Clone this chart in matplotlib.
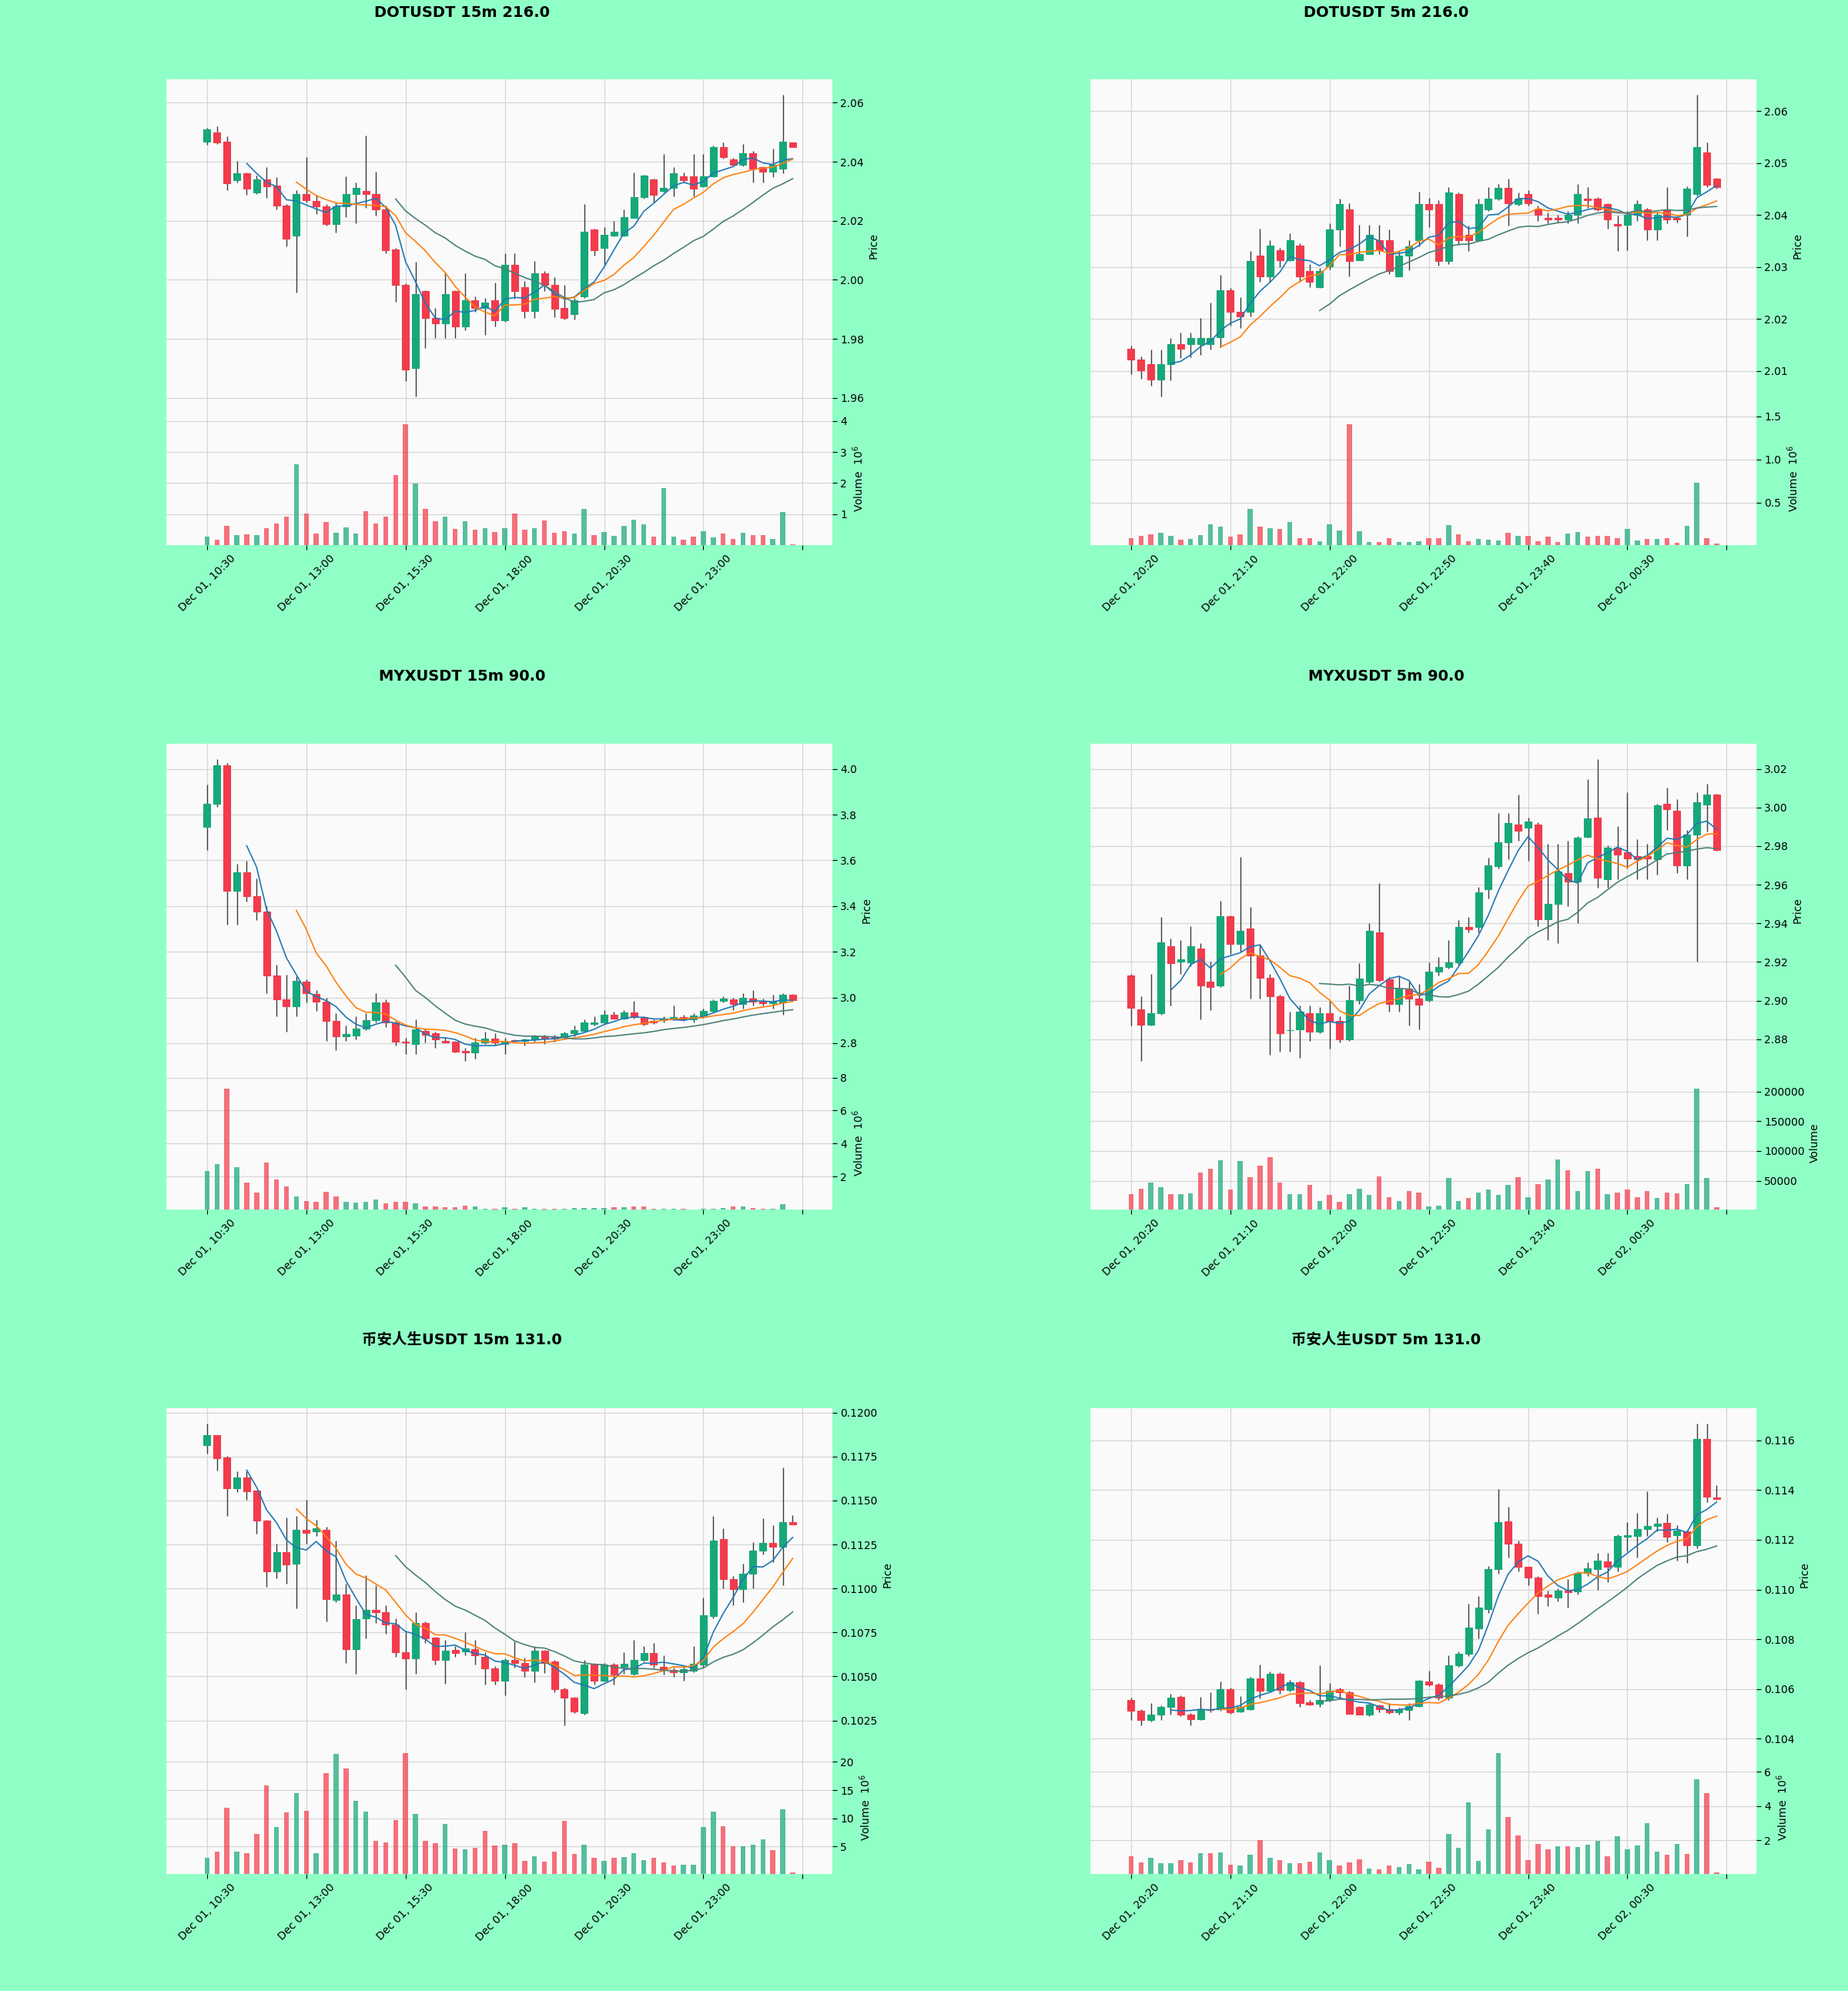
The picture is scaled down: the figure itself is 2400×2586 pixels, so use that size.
import matplotlib
matplotlib.use("Agg")
import numpy as np
import pandas as pd
import matplotlib.pyplot as plt

BG = "#90ffc6"
PANEL_BG = "#fafafa"
UP = "#16a87a"
DOWN = "#f23b4c"
MA_COLORS = ["#1f77b4", "#ff7f0e", "#4a7f78"]
MA_WINDOWS = [5, 10, 20]

labels_15m = ["Dec 01, 10:30", "Dec 01, 13:00", "Dec 01, 15:30", "Dec 01, 18:00",
              "Dec 01, 20:30", "Dec 01, 23:00", ""]
labels_5m = ["Dec 01, 20:20", "Dec 01, 21:10", "Dec 01, 22:00", "Dec 01, 22:50",
             "Dec 01, 23:40", "Dec 02, 00:30", ""]

# ---- DOTUSDT 15m ----
dot15_open = [2.0467, 2.0500, 2.0467, 2.0337, 2.0361, 2.0297, 2.0339, 2.0320, 2.0252, 2.0150,
              2.0290, 2.0268, 2.0250, 2.0190, 2.0250, 2.0290, 2.0300, 2.0290, 2.0239, 2.0102,
              1.9983, 1.9702, 1.9961, 1.9871, 1.9853, 1.9961, 1.9843, 1.9930, 1.9904, 1.9932,
              1.9863, 2.0052, 1.9974, 1.9894, 2.0022, 1.9984, 1.9904, 1.9883, 1.9943, 2.0170,
              2.0109, 2.0150, 2.0150, 2.0210, 2.0280, 2.0339, 2.0300, 2.0311, 2.0350, 2.0350,
              2.0317, 2.0350, 2.0450, 2.0409, 2.0389, 2.0428, 2.0381, 2.0367, 2.0378, 2.0465]
dot15_high = [2.0515, 2.0520, 2.0487, 2.0404, 2.0365, 2.0352, 2.0383, 2.0348, 2.0257, 2.0304,
              2.0417, 2.0287, 2.0257, 2.0261, 2.0350, 2.0330, 2.0489, 2.0367, 2.0252, 2.0109,
              1.9987, 2.0061, 1.9965, 1.9904, 2.0026, 1.9965, 2.0022, 1.9943, 1.9939, 1.9991,
              2.0091, 2.0091, 1.9996, 2.0063, 2.0030, 2.0009, 1.9983, 1.9939, 2.0257, 2.0174,
              2.0178, 2.0200, 2.0239, 2.0365, 2.0357, 2.0343, 2.0426, 2.0383, 2.0365, 2.0426,
              2.0426, 2.0454, 2.0465, 2.0413, 2.0461, 2.0437, 2.0384, 2.0445, 2.0628, 2.0466]
dot15_low = [2.0457, 2.0461, 2.0304, 2.0330, 2.0287, 2.0290, 2.0278, 2.0239, 2.0113, 1.9957,
             2.0261, 2.0222, 2.0183, 2.0161, 2.0213, 2.0191, 2.0243, 2.0217, 2.0091, 1.9926,
             1.9657, 1.9604, 1.9770, 1.9802, 1.9802, 1.9802, 1.9830, 1.9891, 1.9813, 1.9843,
             1.9857, 1.9935, 1.9870, 1.9870, 1.9961, 1.9874, 1.9865, 1.9865, 1.9939, 2.0083,
             2.0052, 2.0148, 2.0148, 2.0209, 2.0274, 2.0261, 2.0296, 2.0283, 2.0330, 2.0283,
             2.0313, 2.0348, 2.0410, 2.0387, 2.0384, 2.0330, 2.0330, 2.0348, 2.0361, 2.0449]
dot15_close = [2.0509, 2.0465, 2.0328, 2.0361, 2.0309, 2.0339, 2.0317, 2.0252, 2.0139, 2.0290,
               2.0270, 2.0250, 2.0190, 2.0250, 2.0290, 2.0311, 2.0290, 2.0239, 2.0100, 1.9983,
               1.9696, 1.9952, 1.9871, 1.9852, 1.9952, 1.9843, 1.9932, 1.9904, 1.9922, 1.9863,
               2.0052, 1.9961, 1.9894, 2.0022, 1.9984, 1.9903, 1.9870, 1.9930, 2.0163, 2.0100,
               2.0152, 2.0163, 2.0213, 2.0280, 2.0352, 2.0289, 2.0311, 2.0361, 2.0337, 2.0309,
               2.0350, 2.0450, 2.0417, 2.0391, 2.0428, 2.0378, 2.0367, 2.0390, 2.0467, 2.0450]
dot15_volume = [0.27, 0.19, 0.62, 0.34, 0.35, 0.34, 0.55, 0.71, 0.92, 2.60,
                1.03, 0.38, 0.74, 0.41, 0.58, 0.37, 1.10, 0.71, 0.92, 2.27,
                3.90, 1.98, 1.18, 0.78, 0.93, 0.52, 0.78, 0.49, 0.54, 0.42,
                0.54, 1.01, 0.49, 0.54, 0.79, 0.40, 0.44, 0.37, 1.18, 0.33,
                0.42, 0.30, 0.62, 0.82, 0.68, 0.27, 1.84, 0.27, 0.19, 0.27,
                0.46, 0.25, 0.38, 0.21, 0.40, 0.34, 0.34, 0.21, 1.08, 0.02]  # x 1e6

# ---- DOTUSDT 5m ----
dot5_open = [2.0143, 2.0122, 2.0113, 2.0083, 2.0113, 2.0152, 2.0152, 2.0152, 2.0152, 2.0164,
             2.0255, 2.0214, 2.0214, 2.0321, 2.0282, 2.0332, 2.0313, 2.0341, 2.0292, 2.0261,
             2.0301, 2.0372, 2.0411, 2.0313, 2.0324, 2.0352, 2.0352, 2.0282, 2.0321, 2.0352,
             2.0421, 2.0421, 2.0311, 2.0440, 2.0362, 2.0352, 2.0411, 2.0431, 2.0452, 2.0421,
             2.0440, 2.0411, 2.0394, 2.0394, 2.0391, 2.0401, 2.0431, 2.0431, 2.0421, 2.0382,
             2.0381, 2.0401, 2.0411, 2.0372, 2.0411, 2.0394, 2.0401, 2.0440, 2.0521, 2.0470]
dot5_high = [2.0148, 2.0128, 2.0141, 2.0141, 2.0163, 2.0173, 2.0173, 2.0202, 2.0232, 2.0284,
             2.0259, 2.0241, 2.0330, 2.0374, 2.0352, 2.0337, 2.0364, 2.0345, 2.0305, 2.0298,
             2.0384, 2.0431, 2.0423, 2.0381, 2.0381, 2.0381, 2.0372, 2.0330, 2.0352, 2.0445,
             2.0433, 2.0428, 2.0453, 2.0443, 2.0379, 2.0431, 2.0453, 2.0460, 2.0470, 2.0443,
             2.0448, 2.0418, 2.0404, 2.0401, 2.0408, 2.0460, 2.0453, 2.0435, 2.0423, 2.0399,
             2.0408, 2.0428, 2.0413, 2.0406, 2.0453, 2.0396, 2.0455, 2.0632, 2.0539, 2.0472]
dot5_low = [2.0094, 2.0084, 2.0071, 2.0050, 2.0082, 2.0124, 2.0126, 2.0131, 2.0141, 2.0146,
            2.0187, 2.0182, 2.0205, 2.0271, 2.0271, 2.0300, 2.0311, 2.0271, 2.0261, 2.0259,
            2.0295, 2.0340, 2.0282, 2.0318, 2.0327, 2.0325, 2.0286, 2.0281, 2.0293, 2.0340,
            2.0377, 2.0303, 2.0305, 2.0342, 2.0330, 2.0351, 2.0408, 2.0428, 2.0379, 2.0418,
            2.0418, 2.0389, 2.0384, 2.0386, 2.0384, 2.0384, 2.0413, 2.0408, 2.0374, 2.0330,
            2.0332, 2.0389, 2.0352, 2.0352, 2.0384, 2.0385, 2.0359, 2.0438, 2.0453, 2.0450]
dot5_close = [2.0122, 2.0101, 2.0083, 2.0113, 2.0152, 2.0142, 2.0163, 2.0163, 2.0163, 2.0255,
              2.0214, 2.0204, 2.0311, 2.0282, 2.0341, 2.0313, 2.0352, 2.0282, 2.0272, 2.0292,
              2.0372, 2.0421, 2.0311, 2.0324, 2.0362, 2.0332, 2.0292, 2.0321, 2.0340, 2.0421,
              2.0411, 2.0311, 2.0443, 2.0352, 2.0352, 2.0421, 2.0431, 2.0452, 2.0422, 2.0431,
              2.0422, 2.0401, 2.0392, 2.0391, 2.0401, 2.0440, 2.0428, 2.0411, 2.0391, 2.0379,
              2.0401, 2.0421, 2.0372, 2.0401, 2.0391, 2.0392, 2.0450, 2.0531, 2.0458, 2.0453]
dot5_volume = [0.088, 0.118, 0.136, 0.148, 0.112, 0.073, 0.076, 0.121, 0.246, 0.225,
               0.103, 0.136, 0.425, 0.225, 0.207, 0.196, 0.270, 0.091, 0.088, 0.052,
               0.246, 0.172, 1.410, 0.163, 0.043, 0.040, 0.088, 0.046, 0.040, 0.055,
               0.091, 0.091, 0.243, 0.136, 0.055, 0.079, 0.073, 0.064, 0.148, 0.118,
               0.112, 0.055, 0.103, 0.046, 0.139, 0.157, 0.103, 0.118, 0.112, 0.091,
               0.193, 0.058, 0.076, 0.076, 0.088, 0.031, 0.231, 0.730, 0.091, 0.022]  # x 1e6

# ---- MYXUSDT 15m ----
myx15_open = [3.746, 3.846, 4.017, 3.466, 3.546, 3.443, 3.376, 3.096, 2.991, 2.961,
              3.069, 3.015, 2.981, 2.898, 2.831, 2.834, 2.864, 2.900, 2.978, 2.891,
              2.807, 2.798, 2.855, 2.842, 2.811, 2.807, 2.767, 2.758, 2.802, 2.820,
              2.798, 2.814, 2.810, 2.815, 2.831, 2.828, 2.828, 2.844, 2.855, 2.885,
              2.891, 2.924, 2.908, 2.934, 2.914, 2.898, 2.900, 2.908, 2.914, 2.904,
              2.920, 2.940, 2.984, 2.991, 2.971, 2.994, 2.984, 2.975, 2.978, 3.011]
myx15_high = [3.933, 4.044, 4.027, 3.586, 3.599, 3.519, 3.399, 3.145, 3.098, 3.092,
              3.078, 3.031, 2.998, 2.931, 2.878, 2.918, 2.931, 3.018, 2.991, 2.898,
              2.824, 2.904, 2.864, 2.851, 2.824, 2.811, 2.778, 2.824, 2.851, 2.844,
              2.824, 2.818, 2.820, 2.838, 2.838, 2.838, 2.851, 2.878, 2.904, 2.918,
              2.944, 2.938, 2.944, 2.984, 2.918, 2.904, 2.918, 2.964, 2.924, 2.931,
              2.951, 2.991, 3.005, 2.998, 3.018, 3.031, 2.994, 3.011, 3.018, 3.016]
myx15_low = [3.646, 3.833, 3.319, 3.319, 3.419, 3.339, 3.018, 2.918, 2.851, 2.918,
             2.978, 2.941, 2.811, 2.771, 2.811, 2.818, 2.858, 2.891, 2.871, 2.791,
             2.751, 2.751, 2.804, 2.778, 2.802, 2.758, 2.721, 2.731, 2.798, 2.794,
             2.751, 2.806, 2.790, 2.806, 2.798, 2.806, 2.818, 2.831, 2.851, 2.878,
             2.884, 2.904, 2.904, 2.908, 2.878, 2.884, 2.891, 2.904, 2.898, 2.891,
             2.911, 2.935, 2.978, 2.944, 2.951, 2.964, 2.964, 2.951, 2.924, 2.984]
myx15_close = [3.846, 4.017, 3.466, 3.546, 3.443, 3.376, 3.096, 2.991, 2.961, 3.071,
               3.018, 2.981, 2.898, 2.831, 2.841, 2.864, 2.900, 2.978, 2.891, 2.807,
               2.802, 2.860, 2.838, 2.815, 2.804, 2.764, 2.758, 2.802, 2.820, 2.802,
               2.811, 2.810, 2.815, 2.831, 2.820, 2.820, 2.844, 2.858, 2.891, 2.891,
               2.924, 2.908, 2.934, 2.914, 2.884, 2.891, 2.908, 2.914, 2.904, 2.920,
               2.940, 2.984, 2.994, 2.971, 2.998, 2.981, 2.975, 2.981, 3.011, 2.988]
myx15_volume = [2.36, 2.77, 7.34, 2.55, 1.66, 1.04, 2.87, 1.84, 1.42, 0.82,
                0.54, 0.45, 1.06, 0.78, 0.48, 0.41, 0.45, 0.63, 0.39, 0.45,
                0.45, 0.39, 0.17, 0.17, 0.13, 0.13, 0.22, 0.17, 0.07, 0.07,
                0.13, 0.07, 0.13, 0.06, 0.06, 0.06, 0.07, 0.09, 0.11, 0.11,
                0.11, 0.13, 0.13, 0.20, 0.17, 0.06, 0.06, 0.07, 0.06, 0.02,
                0.06, 0.07, 0.11, 0.17, 0.17, 0.11, 0.07, 0.07, 0.32, 0.02]  # x 1e6

# ---- MYXUSDT 5m ----
myx5_open = [2.9132, 2.8955, 2.8876, 2.8934, 2.9282, 2.9203, 2.9198, 2.9271, 2.9097, 2.9077,
             2.9436, 2.9295, 2.9372, 2.9235, 2.9119, 2.9021, 2.8845, 2.8850, 2.8934, 2.8839,
             2.8934, 2.8895, 2.8800, 2.9002, 2.9097, 2.9353, 2.9111, 2.8982, 2.9061, 2.9009,
             2.9001, 2.9151, 2.9172, 2.9198, 2.9382, 2.9382, 2.9575, 2.9698, 2.9820, 2.9910,
             2.9895, 2.9910, 2.9420, 2.9499, 2.9662, 2.9615, 2.9847, 2.9947, 2.9630, 2.9793,
             2.9768, 2.9749, 2.9749, 2.9733, 3.0021, 2.9983, 2.9702, 2.9860, 3.0015, 3.0069]
myx5_high = [2.9140, 2.9021, 2.9140, 2.9433, 2.9322, 2.9314, 2.9385, 2.9298, 2.9203, 2.9515,
             2.9441, 2.9744, 2.9483, 2.9290, 2.9140, 2.9029, 2.8942, 2.8974, 2.8974, 2.8966,
             2.8997, 2.8918, 2.9077, 2.9195, 2.9401, 2.9607, 2.9124, 2.9132, 2.9100, 2.9085,
             2.9198, 2.9224, 2.9314, 2.9417, 2.9433, 2.9588, 2.9741, 2.9971, 2.9971, 3.0069,
             2.9947, 2.9923, 2.9812, 2.9812, 2.9828, 2.9852, 3.0148, 3.0252, 2.9804, 2.9904,
             3.0081, 2.9836, 2.9812, 3.0018, 3.0105, 3.0042, 2.9884, 3.0081, 3.0121, 3.0072]
myx5_low = [2.8871, 2.8686, 2.8871, 2.8926, 2.8974, 2.9140, 2.9179, 2.8903, 2.8950, 2.9072,
            2.9243, 2.9255, 2.9009, 2.9009, 2.8721, 2.8736, 2.8736, 2.8702, 2.8792, 2.8831,
            2.8752, 2.8784, 2.8792, 2.8982, 2.9092, 2.9100, 2.8942, 2.8942, 2.8871, 2.8850,
            2.8995, 2.9132, 2.9164, 2.9187, 2.9353, 2.9353, 2.9528, 2.9686, 2.9733, 2.9828,
            2.9725, 2.9385, 2.9314, 2.9299, 2.9488, 2.9401, 2.9844, 2.9583, 2.9583, 2.9630,
            2.9686, 2.9630, 2.9630, 2.9654, 2.9884, 2.9662, 2.9630, 2.9203, 2.9876, 2.9778]
myx5_close = [2.8961, 2.8876, 2.8934, 2.9303, 2.9195, 2.9214, 2.9282, 2.9077, 2.9072, 2.9436,
              2.9293, 2.9361, 2.9235, 2.9119, 2.9021, 2.8831, 2.8848, 2.8942, 2.8839, 2.8934,
              2.8895, 2.8800, 2.9002, 2.9116, 2.9361, 2.9108, 2.8982, 2.9061, 2.9009, 2.8977,
              2.9151, 2.9172, 2.9198, 2.9382, 2.9369, 2.9562, 2.9702, 2.9820, 2.9920, 2.9879,
              2.9926, 2.9420, 2.9499, 2.9667, 2.9615, 2.9844, 2.9942, 2.9635, 2.9793, 2.9757,
              2.9736, 2.9733, 2.9736, 3.0010, 2.9990, 2.9702, 2.9860, 3.0026, 3.0069, 2.9781]
myx5_volume = [28000, 37100, 47300, 39700, 28000, 27000, 28500, 63600, 70200, 83900,
               34600, 82900, 56500, 75300, 89000, 47300, 27000, 27000, 43200, 15300,
               25900, 14200, 27000, 36100, 25900, 57500, 21900, 15800, 32000, 29500,
               6600, 7600, 54900, 15300, 20900, 30500, 34600, 25900, 43200, 56000,
               21900, 44800, 52400, 85500, 67700, 32000, 66100, 70200, 27000, 29500,
               34600, 21900, 32000, 20900, 29500, 29000, 44800, 205000, 54900, 5100]

# ---- 币安人生USDT 15m ----
bnl15_open = [0.11814, 0.11873, 0.11743, 0.11569, 0.11630, 0.11557, 0.11384, 0.11097, 0.11207, 0.11141,
              0.11335, 0.11323, 0.11335, 0.10936, 0.10967, 0.10655, 0.10828, 0.10877, 0.10866, 0.10797,
              0.10637, 0.10602, 0.10802, 0.10720, 0.10595, 0.10651, 0.10641, 0.10655, 0.10611, 0.10547,
              0.10477, 0.10594, 0.10576, 0.10533, 0.10646, 0.10585, 0.10429, 0.10380, 0.10293, 0.10568,
              0.10477, 0.10568, 0.10553, 0.10516, 0.10594, 0.10634, 0.10553, 0.10536, 0.10524, 0.10533,
              0.10568, 0.10845, 0.11280, 0.11054, 0.10998, 0.11085, 0.11215, 0.11259, 0.11236, 0.11375]
bnl15_high = [0.11939, 0.11873, 0.11752, 0.11665, 0.11665, 0.11557, 0.11392, 0.11253, 0.11405, 0.11410,
              0.11502, 0.11392, 0.11349, 0.11271, 0.11028, 0.10906, 0.11075, 0.11019, 0.10906, 0.10828,
              0.10750, 0.10863, 0.10814, 0.10727, 0.10707, 0.10672, 0.10750, 0.10707, 0.10637, 0.10559,
              0.10602, 0.10698, 0.10606, 0.10672, 0.10651, 0.10594, 0.10437, 0.10385, 0.10594, 0.10576,
              0.10576, 0.10576, 0.10637, 0.10707, 0.10672, 0.10689, 0.10620, 0.10550, 0.10559, 0.10672,
              0.10950, 0.11410, 0.11340, 0.11071, 0.11141, 0.11262, 0.11401, 0.11358, 0.11688, 0.11418]
bnl15_low = [0.11766, 0.11670, 0.11410, 0.11549, 0.11505, 0.11311, 0.11010, 0.11057, 0.11028, 0.10889,
             0.11253, 0.11297, 0.10811, 0.10924, 0.10576, 0.10516, 0.10715, 0.10802, 0.10741, 0.10611,
             0.10429, 0.10516, 0.10689, 0.10568, 0.10460, 0.10611, 0.10620, 0.10568, 0.10455, 0.10455,
             0.10394, 0.10550, 0.10498, 0.10467, 0.10519, 0.10411, 0.10220, 0.10290, 0.10281, 0.10455,
             0.10472, 0.10455, 0.10516, 0.10507, 0.10585, 0.10550, 0.10510, 0.10498, 0.10477, 0.10524,
             0.10550, 0.10828, 0.11002, 0.10906, 0.10924, 0.11002, 0.11193, 0.11150, 0.11019, 0.11363]
bnl15_close = [0.11873, 0.11740, 0.11569, 0.11630, 0.11554, 0.11384, 0.11097, 0.11207, 0.11137, 0.11335,
               0.11318, 0.11340, 0.10941, 0.10964, 0.10655, 0.10825, 0.10877, 0.10863, 0.10797, 0.10637,
               0.10602, 0.10802, 0.10715, 0.10594, 0.10646, 0.10634, 0.10658, 0.10620, 0.10547, 0.10477,
               0.10594, 0.10576, 0.10533, 0.10646, 0.10576, 0.10429, 0.10380, 0.10299, 0.10568, 0.10477,
               0.10568, 0.10510, 0.10571, 0.10594, 0.10634, 0.10568, 0.10536, 0.10524, 0.10542, 0.10571,
               0.10849, 0.11271, 0.11054, 0.10998, 0.11085, 0.11215, 0.11259, 0.11236, 0.11375, 0.11366]
bnl15_volume = [2.9, 4.0, 11.9, 4.0, 3.8, 7.2, 15.8, 8.4, 11.0, 14.4,
                11.3, 3.8, 18.0, 21.4, 18.8, 13.1, 11.2, 6.0, 5.7, 9.7,
                21.6, 10.8, 6.0, 5.5, 9.0, 4.6, 4.5, 4.7, 7.7, 5.1,
                5.3, 5.6, 2.4, 3.2, 2.3, 4.1, 9.5, 3.7, 5.3, 2.9,
                2.4, 3.0, 3.1, 3.8, 2.6, 2.9, 2.2, 1.6, 1.8, 1.7,
                8.4, 11.2, 8.6, 5.0, 5.0, 5.3, 6.3, 4.3, 11.6, 0.3]  # x 1e6

# ---- 币安人生USDT 5m ----
bnl5_open = [0.10556, 0.10511, 0.10474, 0.10495, 0.10528, 0.10569, 0.10498, 0.10479, 0.10519, 0.10519,
             0.10599, 0.10509, 0.10519, 0.10643, 0.10593, 0.10661, 0.10597, 0.10627, 0.10546, 0.10540,
             0.10556, 0.10599, 0.10585, 0.10528, 0.10498, 0.10534, 0.10519, 0.10507, 0.10516, 0.10532,
             0.10630, 0.10618, 0.10565, 0.10696, 0.10740, 0.10843, 0.10922, 0.11082, 0.11275, 0.11185,
             0.11090, 0.11049, 0.10979, 0.10969, 0.10996, 0.10991, 0.11068, 0.11082, 0.11113, 0.11092,
             0.11213, 0.11216, 0.11243, 0.11255, 0.11267, 0.11218, 0.11234, 0.11179, 0.11607, 0.11370]
bnl5_high = [0.10565, 0.10519, 0.10544, 0.10535, 0.10581, 0.10575, 0.10503, 0.10569, 0.10587, 0.10630,
             0.10606, 0.10572, 0.10649, 0.10698, 0.10671, 0.10667, 0.10636, 0.10634, 0.10556, 0.10695,
             0.10624, 0.10606, 0.10593, 0.10532, 0.10544, 0.10538, 0.10544, 0.10525, 0.10544, 0.10636,
             0.10673, 0.10624, 0.10735, 0.10750, 0.10944, 0.10975, 0.11095, 0.11403, 0.11333, 0.11197,
             0.11092, 0.11055, 0.10996, 0.11004, 0.11043, 0.11074, 0.11111, 0.11148, 0.11148, 0.11222,
             0.11271, 0.11308, 0.11394, 0.11289, 0.11304, 0.11259, 0.11240, 0.11669, 0.11669, 0.11419]
bnl5_low = [0.10476, 0.10454, 0.10470, 0.10476, 0.10495, 0.10491, 0.10452, 0.10476, 0.10507, 0.10513,
            0.10501, 0.10507, 0.10516, 0.10562, 0.10587, 0.10581, 0.10590, 0.10528, 0.10534, 0.10528,
            0.10550, 0.10565, 0.10501, 0.10495, 0.10491, 0.10507, 0.10501, 0.10498, 0.10476, 0.10528,
            0.10612, 0.10556, 0.10556, 0.10688, 0.10732, 0.10803, 0.10907, 0.11065, 0.11129, 0.11074,
            0.11018, 0.10901, 0.10932, 0.10951, 0.10926, 0.10981, 0.11055, 0.10999, 0.11031, 0.11074,
            0.11154, 0.11129, 0.11216, 0.11234, 0.11191, 0.11117, 0.11107, 0.11166, 0.11351, 0.11361]
bnl5_close = [0.10511, 0.10474, 0.10495, 0.10528, 0.10565, 0.10498, 0.10479, 0.10519, 0.10514, 0.10599,
              0.10507, 0.10528, 0.10643, 0.10593, 0.10661, 0.10597, 0.10627, 0.10544, 0.10538, 0.10556,
              0.10593, 0.10585, 0.10501, 0.10498, 0.10538, 0.10519, 0.10507, 0.10519, 0.10532, 0.10634,
              0.10618, 0.10565, 0.10696, 0.10741, 0.10848, 0.10926, 0.11082, 0.11271, 0.11185, 0.11090,
              0.11049, 0.10975, 0.10972, 0.10994, 0.10988, 0.11068, 0.11086, 0.11117, 0.11092, 0.11216,
              0.11218, 0.11243, 0.11255, 0.11265, 0.11213, 0.11238, 0.11179, 0.11607, 0.11373, 0.11363]
bnl5_volume = [1.07, 0.71, 0.96, 0.65, 0.65, 0.83, 0.71, 1.23, 1.23, 1.28,
               0.56, 0.53, 1.16, 2.00, 0.96, 0.83, 0.65, 0.65, 0.74, 1.28,
               0.83, 0.51, 0.69, 0.87, 0.33, 0.30, 0.51, 0.44, 0.60, 0.30,
               0.74, 0.39, 2.36, 1.55, 4.24, 0.80, 2.66, 7.11, 3.35, 2.30,
               0.83, 1.77, 1.46, 1.64, 1.64, 1.59, 1.73, 1.95, 1.05, 2.23,
               1.46, 1.68, 3.02, 1.32, 1.14, 1.77, 1.19, 5.59, 4.74, 0.12]  # x 1e6

FIG_W, FIG_H = 2400, 2586


def draw_panel(fig, col, row, title, o, h, l, c, v, vol_label, xlabels):
    o, h, l, c, v = map(np.asarray, (o, h, l, c, v))
    n = len(c)
    x = np.arange(n)

    left = (216 + col * 1200) / FIG_W
    width = 865 / FIG_W
    top = 103 + row * 863
    price_h, vol_h = 432, 173
    ax = fig.add_axes([left, 1 - (top + price_h) / FIG_H, width, price_h / FIG_H])
    axv = fig.add_axes([left, 1 - (top + price_h + vol_h) / FIG_H, width, vol_h / FIG_H], sharex=ax)

    colors = np.where(c >= o, UP, DOWN)

    # candles
    ax.vlines(x, l, h, colors="#3a3a3a", linewidth=1.0, zorder=2)
    ax.bar(x, np.abs(c - o), bottom=np.minimum(o, c), width=0.7,
           color=colors, edgecolor=colors, linewidth=0.8, zorder=3)

    # moving averages
    close = pd.Series(c)
    for w, mc in zip(MA_WINDOWS, MA_COLORS):
        ax.plot(x, close.rolling(w).mean(), color=mc, linewidth=1.2, zorder=4)

    rng = h.max() - l.min()
    ax.set_ylim(l.min() - 0.05 * rng, h.max() + 0.05 * rng)

    # volume
    axv.bar(x, v, width=0.5, color=colors, alpha=0.72, zorder=3)
    axv.set_ylim(0.3 * v.min(), 1.1 * v.max())

    ticks = np.arange(0, n + 1, 10)
    for a in (ax, axv):
        a.set_facecolor(PANEL_BG)
        a.grid(True, color="#d6d6d6", linewidth=0.9, zorder=0)
        a.set_axisbelow(True)
        for s in a.spines.values():
            s.set_visible(False)
        a.yaxis.tick_right()
        a.yaxis.set_label_position("right")
        a.tick_params(axis="y", labelsize=10, length=4)
    ax.set_xlim(-4.1, 63.0)
    axv.set_xticks(ticks)
    axv.set_xticklabels(xlabels, rotation=45, ha="center", fontsize=10)
    ax.tick_params(axis="x", labelbottom=False, length=0)
    axv.tick_params(axis="x", length=4)

    ax.set_ylabel("Price", fontsize=10)
    axv.set_ylabel(vol_label, fontsize=10)

    fig.text(0.25 + 0.5 * col, 1 - [16.5, 878, 1740][row] / FIG_H, title,
             ha="center", va="center", fontsize=14, fontweight="bold",
             family=["DejaVu Sans", "Noto Sans CJK SC"])


def main():
    fig = plt.figure(figsize=(24, 25.86), dpi=100, facecolor=BG)
    vol6 = "Volume  $10^{6}$"

    draw_panel(fig, 0, 0, "DOTUSDT 15m 216.0", dot15_open, dot15_high, dot15_low,
               dot15_close, dot15_volume, vol6, labels_15m)
    draw_panel(fig, 1, 0, "DOTUSDT 5m 216.0", dot5_open, dot5_high, dot5_low,
               dot5_close, dot5_volume, vol6, labels_5m)
    draw_panel(fig, 0, 1, "MYXUSDT 15m 90.0", myx15_open, myx15_high, myx15_low,
               myx15_close, myx15_volume, vol6, labels_15m)
    draw_panel(fig, 1, 1, "MYXUSDT 5m 90.0", myx5_open, myx5_high, myx5_low,
               myx5_close, myx5_volume, "Volume", labels_5m)
    draw_panel(fig, 0, 2, "币安人生USDT 15m 131.0", bnl15_open, bnl15_high, bnl15_low,
               bnl15_close, bnl15_volume, vol6, labels_15m)
    draw_panel(fig, 1, 2, "币安人生USDT 5m 131.0", bnl5_open, bnl5_high, bnl5_low,
               bnl5_close, bnl5_volume, vol6, labels_5m)

    fig.savefig("out.png", dpi=100, facecolor=BG)
    plt.close(fig)


if __name__ == "__main__":
    main()
